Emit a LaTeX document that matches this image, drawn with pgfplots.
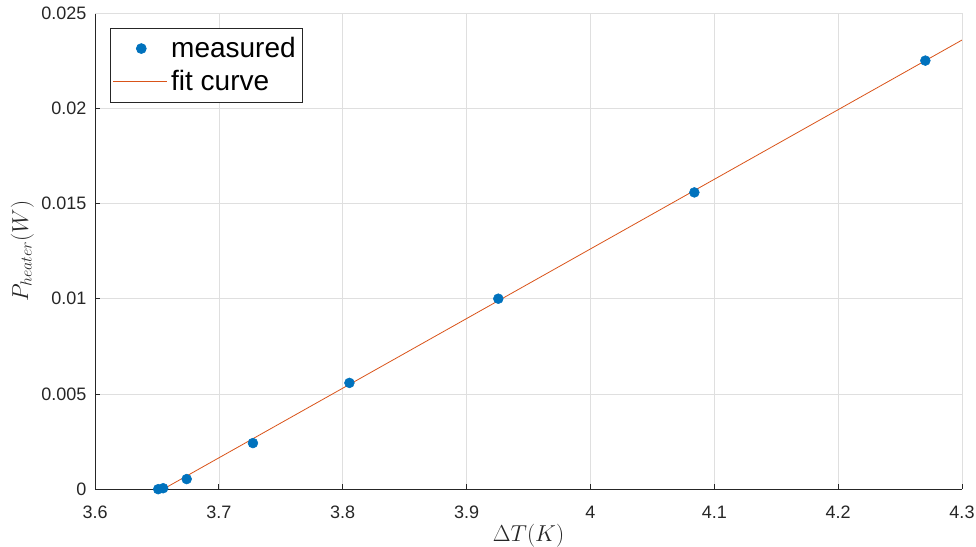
\documentclass[border=0pt]{standalone}
\usepackage{fontspec}
\setmainfont{Liberation Sans}
\usepackage{pgfplots}
\pgfplotsset{compat=1.18}
\definecolor{mblue}{RGB}{0,114,189}
\definecolor{morange}{RGB}{217,83,25}
\definecolor{axgray}{RGB}{38,38,38}
\definecolor{gridgray}{RGB}{223,223,223}
\pgfplotsset{
  legmark/.style={legend image code/.code={\draw[##1] plot[mark=*] coordinates {(21pt,0pt)};}},
  legline/.style={legend image code/.code={\draw[draw=morange, line width=0.8pt] (0pt,0pt) -- (40pt,0pt);}},
}
\begin{document}
\begin{tikzpicture}
\begin{axis}[
  width=650pt, height=357pt, scale only axis,
  xmin=3.6, xmax=4.3, ymin=0, ymax=0.025,
  scaled y ticks=false, scaled x ticks=false,
  xtick={3.6,3.7,3.8,3.9,4,4.1,4.2,4.3},
  xticklabels={3.6,3.7,3.8,3.9,4,4.1,4.2,4.3},
  ytick={0,0.005,0.01,0.015,0.02,0.025},
  yticklabels={0,0.005,0.01,0.015,0.02,0.025},
  axis x line*=bottom, axis y line*=left,
  axis line style={axgray, line width=0.6pt, -},
  tick style={axgray, line width=0.6pt},
  tick align=inside, major tick length=4pt,
  grid=major, major grid style={gridgray, line width=0.5pt},
  ticklabel style={font=\fontsize{13.5}{15}\selectfont, text=axgray},
  xticklabel style={yshift=-9pt},
  yticklabel style={xshift=-3pt},
  xlabel={$\Delta T(K)$}, ylabel={$P_{heater}(W)$},
  label style={text=axgray},
  xlabel style={font=\fontsize{17}{19}\selectfont, at={([yshift=-35pt]axis description cs:0.5,0)}, anchor=center},
  ylabel style={font=\fontsize{18.5}{20}\selectfont, at={([xshift=-54.5pt]axis description cs:0,0.5)}, anchor=center},
  legend style={at={([xshift=11pt,yshift=-11pt]axis description cs:0,1)}, anchor=north west,
    draw=axgray, line width=0.6pt, fill=white,
    font=\fontsize{21}{24}\selectfont, inner xsep=2pt, inner ysep=5pt, row sep=4pt,
    nodes={inner xsep=3pt}},
  legend cell align=left,
]
\draw[gridgray, line width=0.5pt] (axis cs:3.6,0.025) -- (axis cs:4.3,0.025) -- (axis cs:4.3,0);
\addplot[only marks, mark=*, mark size=3.7pt, mblue, legmark] coordinates {
(3.651,0) (3.655,0.00005) (3.674,0.00053) (3.7275,0.00242) (3.8054,0.00558)
(3.9256,0.0100) (4.0839,0.01558) (4.2704,0.0225)};
\addlegendentry{measured}
\addplot[morange, line width=0.6pt, legline] coordinates {(3.655,0) (4.30,0.02358)};
\addlegendentry{fit curve}
\end{axis}
\pgfresetboundingbox
\path ([shift={(-71.25pt,-42.75pt)}]current axis.south west) rectangle ([shift={(10.5pt,9.75pt)}]current axis.north east);
\end{tikzpicture}
\end{document}
